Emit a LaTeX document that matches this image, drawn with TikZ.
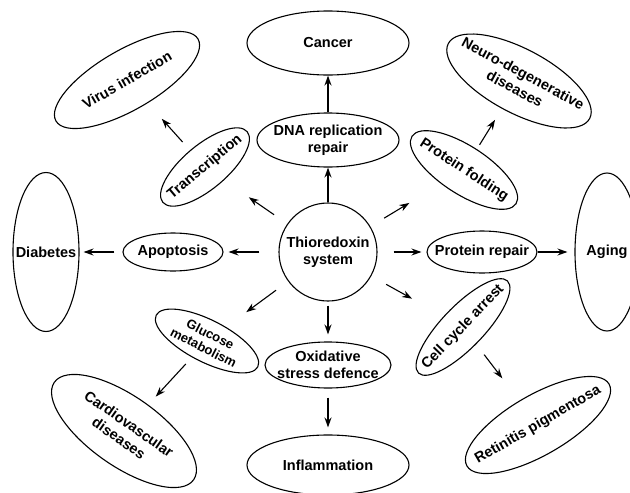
\documentclass[tikz,border=0pt]{standalone}
\usepackage{fontspec}
\setmainfont{Liberation Sans}
\usetikzlibrary{arrows.meta,shapes.geometric}

\tikzset{
  oval/.style={draw, ellipse, line width=1.1pt, inner sep=-20pt, align=center},
  hub/.style={draw, circle, line width=1.1pt, inner sep=0pt, minimum size=98pt, align=center},
  sh/.style 2 args={shorten <=#1pt, shorten >=#2pt},
  heavy/.style={line width=2pt}
}

\begin{document}
\begin{tikzpicture}[x=1pt,y=-1pt,>={Stealth[length=10pt,width=7pt]},line width=1.1pt,
  font=\bfseries\fontsize{14.5}{17.5}\selectfont]
  \useasboundingbox (0,0) rectangle (630,493);
  \clip (0,0) rectangle (630,493);

  \node[hub]  (T) at (328,252) {Thioredoxin\\system};

  % straight up, down, left and right
  \node[oval, minimum width=142pt, minimum height=54pt] (DNA) [above of=T, node distance=112pt] {DNA replication\\repair};
  \node[oval, minimum width=162pt, minimum height=64pt] (Can) [above of=DNA, node distance=97pt] {Cancer};
  \node[oval, minimum width=126pt, minimum height=46pt] (Ox)  [below of=T, node distance=113pt] {Oxidative\\stress defence};
  \node[oval, minimum width=162pt, minimum height=60pt] (Inf) [below of=Ox, node distance=100pt] {Inflammation};
  \node[oval, minimum width=100pt, minimum height=38pt] (Apo) [left of=T, node distance=155pt] {Apoptosis};
  \node[oval, minimum width=66pt, minimum height=159pt] (Dia) [left of=Apo, node distance=127pt] {Diabetes};
  \node[oval, minimum width=110pt, minimum height=42pt] (PR)  [right of=T, node distance=154pt] {Protein repair};
  \node[oval, minimum width=64pt, minimum height=158pt] (Age) [right of=PR, node distance=125pt] {Aging};

  % tilted ones
  \node[oval, minimum width=110pt, minimum height=44pt, rotate=40]  (Tr)  at (205,167) {Transcription};
  \node[oval, minimum width=164pt, minimum height=60pt, rotate=30]  (Vir) at (127,80)  {Virus infection};
  \node[oval, minimum width=124pt, minimum height=48pt, rotate=-33] (PF)  at (464,170) {Protein folding};
  \node[oval, minimum width=160pt, minimum height=64pt, rotate=-28] (ND)  at (519,81)  {Neuro-degenerative\\diseases};
  \node[oval, minimum width=114pt, minimum height=42pt, rotate=-27,
        font=\bfseries\fontsize{13}{15}\selectfont] (Glu) at (207,341) {Glucose\\metabolism};
  \node[oval, minimum width=170pt, minimum height=70pt, rotate=-35] (CV)  at (124,431) {Cardiovascular\\diseases};
  \node[oval, minimum width=128pt, minimum height=42pt, rotate=46]  (CC)  at (463,327) {Cell cycle arrest};
  \node[oval, minimum width=164pt, minimum height=60pt, rotate=30]  (RP)  at (538,425) {Retinitis pigmentosa};

  \path[->] (T)   edge[heavy] (DNA)
            (DNA) edge[heavy] (Can)
            (T)   edge[heavy, sh={4}{7}] (Ox)
            (Ox)  edge[heavy, sh={9}{7}] (Inf)
            (T)   edge[sh={19}{5}] (Apo)
            (Apo) edge[sh={8}{4}] (Dia)
            (T)   edge[sh={16}{5}] (PR)
            (PR)  edge[sh={0}{7}] (Age)
            (T)   edge[sh={16}{30}] (Tr)
            (Tr)  edge[sh={11}{21}] (Vir)
            (T)   edge[sh={16}{37}] (PF)
            (PF)  edge[sh={5}{13}] (ND)
            (T)   edge[sh={15}{25}] (Glu)
            (Glu) edge[sh={9}{11}] (CV)
            (T)   edge[sh={17}{36}] (CC)
            (CC)  edge[sh={13}{28}] (RP);
\end{tikzpicture}
\end{document}
